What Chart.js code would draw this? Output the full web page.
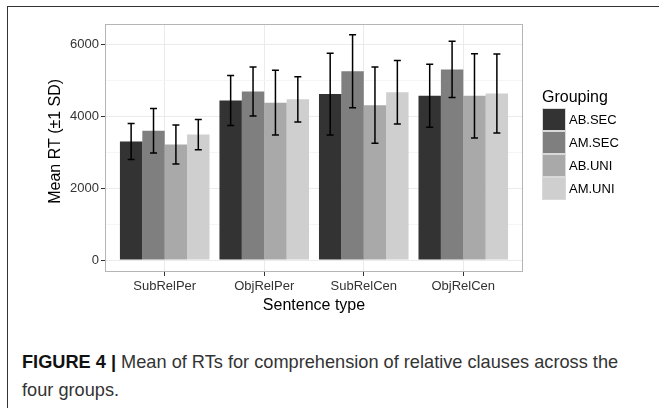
<!DOCTYPE html>
<html>
<head>
<meta charset="utf-8">
<script src="https://cdn.jsdelivr.net/npm/chart.js@4.4.0/dist/chart.umd.min.js"></script>
<style>
  body { margin: 0; background: #fff; font-family: "Liberation Sans", Arial, sans-serif; }
  #wrap { position: relative; width: 659px; height: 408px; overflow: hidden; }
  #frame { position: absolute; left: 7px; top: 6px; width: 700px; height: 500px; border: 1.5px solid #333; }
  #chart { position: absolute; left: 0; top: 0; }
  #legend { position: absolute; left: 542px; top: 86px; color: #000; }
  #legend .title { font-size: 16px; height: 22px; line-height: 22px; }
  #legend .row { display: flex; align-items: center; height: 23px; }
  #legend .key { width: 22px; height: 21px; border: 1px solid #d9d9d9; margin-right: 3px; }
  #legend .lab { font-size: 13px; }
  #caption { position: absolute; left: 22px; top: 348px; width: 630px; font-size: 18.2px; line-height: 28px; color: #333; }
  #caption b { color: #111; }
</style>
</head>
<body>
<div id="wrap">
  <div id="frame"></div>
  <canvas id="chart" width="659" height="330"></canvas>
  <div id="legend"></div>
  <div id="caption"><b>FIGURE 4 |</b> Mean of RTs for comprehension of relative clauses across the four groups.</div>
</div>
<script>
const categories = ["SubRelPer", "ObjRelPer", "SubRelCen", "ObjRelCen"];
const groups = ["AB.SEC", "AM.SEC", "AB.UNI", "AM.UNI"];
const colors = ["#333333", "#7f7f7f", "#a9a9a9", "#cfcfcf"];

// means per group, in category order
const abSec = [3290, 4430, 4610, 4560];
const amSec = [3590, 4680, 5245, 5295];
const abUni = [3210, 4370, 4300, 4560];
const amUni = [3486, 4463, 4660, 4625];

// standard deviations
const abSecSD = [500, 695, 1135, 875];
const amSecSD = [620, 680, 1015, 780];
const abUniSD = [540, 900, 1060, 1170];
const amUniSD = [420, 630, 885, 1100];

const yTicks = [0, 2000, 4000, 6000];
const yMinor = [1000, 3000, 5000];

const means = [abSec, amSec, abUni, amUni];
const sds = [abSecSD, amSecSD, abUniSD, amUniSD];

// legend
const legend = document.getElementById("legend");
legend.innerHTML = '<div class="title">Grouping</div>' + groups.map((g, i) =>
  `<div class="row"><div class="key" style="background:${colors[i]}"></div><span class="lab">${g}</span></div>`
).join("");

// error bars drawn on top of the bars
const errorBars = {
  id: "errorBars",
  afterDatasetsDraw(chart) {
    const { ctx, scales: { y } } = chart;
    ctx.save();
    ctx.strokeStyle = "#000";
    ctx.lineWidth = 1.5;
    chart.data.datasets.forEach((ds, di) => {
      chart.getDatasetMeta(di).data.forEach((bar, i) => {
        const m = ds.data[i].y, sd = ds.sd[i];
        const top = y.getPixelForValue(m + sd);
        const bot = y.getPixelForValue(m - sd);
        ctx.beginPath();
        ctx.moveTo(bar.x, top); ctx.lineTo(bar.x, bot);
        ctx.moveTo(bar.x - 3.5, top); ctx.lineTo(bar.x + 3.5, top);
        ctx.moveTo(bar.x - 3.5, bot); ctx.lineTo(bar.x + 3.5, bot);
        ctx.stroke();
      });
    });
    ctx.restore();
  }
};

// ggplot style panel border
const panelBorder = {
  id: "panelBorder",
  afterDraw(chart) {
    const { ctx, chartArea: a } = chart;
    ctx.save();
    ctx.strokeStyle = "#b5b5b5";
    ctx.lineWidth = 1;
    ctx.strokeRect(a.left + 0.5, a.top + 0.5, a.right - a.left - 1, a.bottom - a.top - 1);
    ctx.restore();
  }
};

new Chart(document.getElementById("chart"), {
  type: "bar",
  data: {
    datasets: groups.map((g, i) => ({
      label: g,
      data: means[i].map((v, j) => ({ x: j, y: v })),
      sd: sds[i],
      backgroundColor: colors[i],
      borderWidth: 0,
      categoryPercentage: 0.9,
      barPercentage: 1.0
    }))
  },
  options: {
    responsive: false,
    animation: false,
    layout: { padding: { left: 40, top: 24, right: 136, bottom: 0 } },
    plugins: { legend: { display: false }, tooltip: { enabled: false } },
    scales: {
      x: {
        type: "linear",
        min: -0.6,
        max: 3.6,
        offset: false,
        afterBuildTicks: s => { s.ticks = categories.map((c, i) => ({ value: i })); },
        afterFit: s => { s.height = 58; },
        ticks: {
          callback: v => categories[v],
          color: "#333",
          font: { family: "Liberation Sans", size: 13 },
          padding: 3,
          maxRotation: 0
        },
        grid: { offset: false, color: "#ebebeb", tickColor: "#333", tickLength: 4 },
        border: { display: false },
        title: {
          display: true,
          text: "Sentence type",
          color: "#000",
          font: { family: "Liberation Sans", size: 16 },
          padding: { top: 0, bottom: 15 }
        }
      },
      y: {
        min: -333,
        max: 6556,
        afterBuildTicks: s => {
          s.ticks = yTicks.concat(yMinor).sort((a, b) => a - b).map(v => ({ value: v }));
        },
        afterFit: s => { s.width = 65; },
        ticks: {
          callback: v => yTicks.includes(v) ? v : "",
          color: "#333",
          font: { family: "Liberation Sans", size: 13 },
          padding: 2
        },
        grid: {
          color: c => (c.tick && yMinor.includes(c.tick.value)) ? "#f5f5f5" : "#ebebeb",
          tickColor: c => (c.tick && yMinor.includes(c.tick.value)) ? "rgba(0,0,0,0)" : "#333",
          tickLength: 4
        },
        border: { display: false },
        title: {
          display: true,
          text: "\u00a0\u00a0\u00a0Mean RT (\u00b11 SD)",
          color: "#000",
          font: { family: "Liberation Sans", size: 16 },
          padding: { top: 6, bottom: 0 }
        }
      }
    }
  },
  plugins: [errorBars, panelBorder]
});
</script>
</body>
</html>
